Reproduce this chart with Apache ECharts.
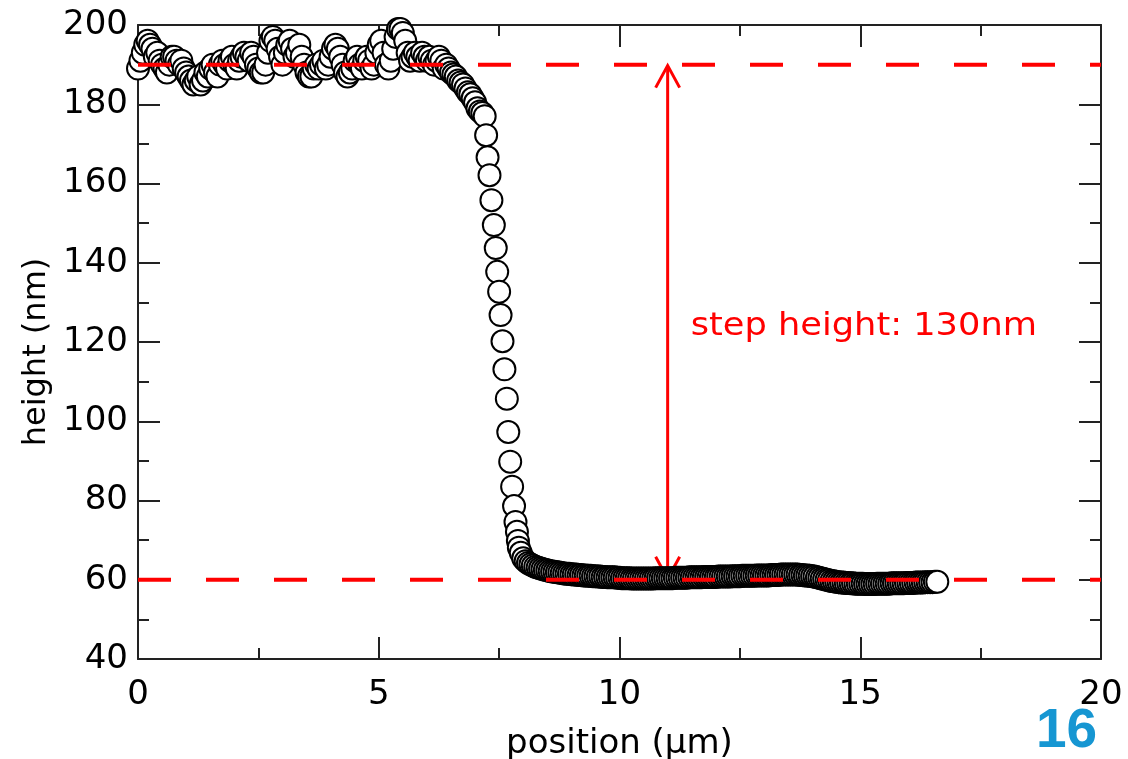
<!DOCTYPE html>
<html>
<head>
<meta charset="utf-8">
<title>step height</title>
<script src="https://cdn.jsdelivr.net/npm/echarts@6/dist/echarts.min.js"></script>
<style>
  html, body { margin: 0; padding: 0; background: #fff; }
  #chart { width: 1128px; height: 759px; }
</style>
</head>
<body>
<div id="chart"></div>
<script>
// profile: plateau, step edge, floor
var plateauX = [0.00, 0.05, 0.10, 0.15, 0.20, 0.25, 0.30, 0.35, 0.40, 0.45,
  0.50, 0.55, 0.60, 0.65, 0.70, 0.75, 0.80, 0.85, 0.90, 0.95,
  1.00, 1.05, 1.10, 1.15, 1.20, 1.25, 1.30, 1.35, 1.40, 1.45,
  1.50, 1.55, 1.60, 1.65, 1.70, 1.75, 1.80, 1.85, 1.90, 1.95,
  2.00, 2.05, 2.10, 2.15, 2.20, 2.25, 2.30, 2.35, 2.40, 2.45,
  2.50, 2.55, 2.60, 2.65, 2.70, 2.75, 2.80, 2.85, 2.90, 2.95,
  3.00, 3.05, 3.10, 3.15, 3.20, 3.25, 3.30, 3.35, 3.40, 3.45,
  3.50, 3.55, 3.60, 3.65, 3.70, 3.75, 3.80, 3.85, 3.90, 3.95,
  4.00, 4.05, 4.10, 4.15, 4.20, 4.25, 4.30, 4.35, 4.40, 4.45,
  4.50, 4.55, 4.60, 4.65, 4.70, 4.75, 4.80, 4.85, 4.90, 4.95,
  5.00, 5.05, 5.10, 5.15, 5.20, 5.25, 5.30, 5.35, 5.40, 5.45,
  5.50, 5.55, 5.60, 5.65, 5.70, 5.75, 5.80, 5.85, 5.90, 5.95,
  6.00, 6.05, 6.10, 6.15, 6.20, 6.25, 6.30, 6.35, 6.40, 6.45,
  6.50, 6.55, 6.60, 6.65, 6.70, 6.75, 6.80, 6.85, 6.90, 6.95,
  7.00, 7.05, 7.10, 7.15, 7.20]
var plateauH = [189, 191, 193, 195, 196, 195, 194, 192, 193, 191,
  190, 189, 188, 190, 192, 192, 191, 190, 191, 189,
  188, 187, 186, 185, 186, 187, 185, 186, 188, 187,
  189, 190, 188, 187, 190, 191, 190, 189, 191, 192,
  190, 189, 191, 192, 193, 192, 191, 193, 192, 190,
  189, 188, 188, 190, 193, 196, 197, 196, 194, 192,
  190, 193, 195, 196, 194, 192, 193, 195, 192, 190,
  188, 187, 187, 189, 190, 189, 190, 191, 189, 190,
  192, 194, 195, 194, 192, 190, 188, 187, 188, 189,
  191, 192, 190, 189, 191, 192, 191, 189, 190, 193,
  195, 196, 193, 190, 189, 191, 194, 197, 199, 199,
  198, 196, 193, 191, 192, 193, 192, 191, 193, 192,
  191, 192, 191, 190, 191, 192, 191, 189, 190, 189,
  188, 187.5, 187, 186, 185.5, 185, 184, 183, 182.5, 181.5,
  180.5, 179, 178.2, 177.8, 177]

var stepX = [7.23, 7.26, 7.30, 7.34, 7.39, 7.43, 7.46, 7.50, 7.53, 7.57,
  7.61, 7.66, 7.69, 7.73, 7.77, 7.81, 7.84, 7.87, 7.89, 7.91,
  7.95, 8.00, 8.05]
var stepH = [172.2, 166.6, 162.1, 155.8, 149.5, 143.7, 137.7, 132.7, 126.8, 120.2,
  113.1, 105.7, 97.3, 89.8, 83.5, 78.6, 74.6, 72.1, 69.8, 68.1,
  66.8, 65.4, 64.7]

var floorX = [8.10, 8.15, 8.20, 8.25, 8.30, 8.35, 8.40, 8.45, 8.50, 8.55,
  8.60, 8.65, 8.70, 8.75, 8.80, 8.85, 8.90, 8.95, 9.00, 9.05,
  9.10, 9.15, 9.20, 9.25, 9.30, 9.35, 9.40, 9.45, 9.50, 9.55,
  9.60, 9.65, 9.70, 9.75, 9.80, 9.85, 9.90, 9.95, 10.00, 10.05,
  10.10, 10.15, 10.20, 10.25, 10.30, 10.35, 10.40, 10.45, 10.50, 10.55,
  10.60, 10.65, 10.70, 10.75, 10.80, 10.85, 10.90, 10.95, 11.00, 11.05,
  11.10, 11.15, 11.20, 11.25, 11.30, 11.35, 11.40, 11.45, 11.50, 11.55,
  11.60, 11.65, 11.70, 11.75, 11.80, 11.85, 11.90, 11.95, 12.00, 12.05,
  12.10, 12.15, 12.20, 12.25, 12.30, 12.35, 12.40, 12.45, 12.50, 12.55,
  12.60, 12.65, 12.70, 12.75, 12.80, 12.85, 12.90, 12.95, 13.00, 13.05,
  13.10, 13.15, 13.20, 13.25, 13.30, 13.35, 13.40, 13.45, 13.50, 13.55,
  13.60, 13.65, 13.70, 13.75, 13.80, 13.85, 13.90, 13.95, 14.00, 14.05,
  14.10, 14.15, 14.20, 14.25, 14.30, 14.35, 14.40, 14.45, 14.50, 14.55,
  14.60, 14.65, 14.70, 14.75, 14.80, 14.85, 14.90, 14.95, 15.00, 15.05,
  15.10, 15.15, 15.20, 15.25, 15.30, 15.35, 15.40, 15.45, 15.50, 15.55,
  15.60, 15.65, 15.70, 15.75, 15.80, 15.85, 15.90, 15.95, 16.00, 16.05,
  16.10, 16.15, 16.20, 16.25, 16.30, 16.35, 16.40, 16.45, 16.50, 16.55,
  16.60]
var floorH = [64.2, 63.9, 63.6, 63.3, 63.1, 62.9, 62.7, 62.5, 62.4, 62.2,
  62.1, 62.0, 61.9, 61.8, 61.7, 61.6, 61.5, 61.5, 61.4, 61.3,
  61.3, 61.2, 61.2, 61.1, 61.1, 61.0, 61.0, 60.9, 60.9, 60.8,
  60.8, 60.7, 60.7, 60.6, 60.6, 60.6, 60.6, 60.5, 60.5, 60.4,
  60.4, 60.4, 60.4, 60.3, 60.3, 60.3, 60.3, 60.3, 60.3, 60.3,
  60.3, 60.3, 60.3, 60.4, 60.4, 60.4, 60.4, 60.4, 60.4, 60.4,
  60.4, 60.5, 60.5, 60.5, 60.5, 60.5, 60.5, 60.6, 60.6, 60.6,
  60.6, 60.6, 60.6, 60.7, 60.7, 60.7, 60.7, 60.7, 60.7, 60.8,
  60.8, 60.8, 60.8, 60.8, 60.8, 60.9, 60.9, 60.9, 60.9, 61.0,
  61.0, 61.0, 61.0, 61.0, 61.0, 61.1, 61.1, 61.1, 61.1, 61.1,
  61.1, 61.2, 61.2, 61.2, 61.2, 61.3, 61.3, 61.3, 61.3, 61.3,
  61.3, 61.3, 61.3, 61.2, 61.2, 61.1, 61.1, 61.0, 60.9, 60.8,
  60.6, 60.5, 60.3, 60.2, 60.0, 59.9, 59.7, 59.6, 59.5, 59.4,
  59.3, 59.3, 59.2, 59.2, 59.1, 59.1, 59.0, 59.0, 59.0, 59.0,
  58.9, 58.9, 58.9, 58.9, 58.9, 59.0, 59.0, 59.0, 59.0, 59.0,
  59.0, 59.1, 59.1, 59.1, 59.1, 59.1, 59.1, 59.2, 59.2, 59.2,
  59.2, 59.3, 59.3, 59.3, 59.3, 59.4, 59.4, 59.4, 59.4, 59.5,
  59.5]

// reference levels and the annotation
var upperLevel = 190
var lowerLevel = 60
var levelSpan = [0, 20]
var arrowAt = 11
var stepLabel = 'step height: 130nm'
var pageNumber = '16'

var positions = plateauX.concat(stepX, floorX)
var heights = plateauH.concat(stepH, floorH)
var points = positions.map(function (x, i) { return [x, heights[i]] })

var axisColor = '#222'
var font = 'DejaVu Sans'

function frameAxis(pos, showLabels, extra) {
  var ax = {
    position: pos,
    axisLine: { show: true, onZero: false, lineStyle: { color: axisColor, width: 2 } },
    axisTick: { show: true, inside: true, length: 22, lineStyle: { color: axisColor, width: 2 } },
    minorTick: { show: true, splitNumber: 2, length: 11, lineStyle: { color: axisColor, width: 2 } },
    splitLine: { show: false },
    axisLabel: { show: showLabels, color: '#000', fontSize: 34, fontFamily: font,
      margin: (pos === 'bottom' ? 19 : 10) }
  }
  return Object.assign(ax, extra)
}

var chart = echarts.init(document.getElementById('chart'))
var option = {
  animation: false,
  backgroundColor: '#fff',
  grid: { left: 138, right: 27, top: 25, bottom: 100, containLabel: false, outerBoundsMode: 'none' },
  xAxis: [
    frameAxis('bottom', true, {
      type: 'value', min: 0, max: 20, interval: 5,
      name: 'position (µm)', nameLocation: 'middle', nameGap: 68,
      nameTextStyle: { color: '#000', fontSize: 34, fontFamily: font }
    }),
    frameAxis('top', false, { type: 'value', min: 0, max: 20, interval: 5 })
  ],
  yAxis: [
    frameAxis('left', true, {
      type: 'value', min: 40, max: 200, interval: 20,
      name: 'height (nm)', nameLocation: 'middle', nameGap: 85,
      nameTextStyle: { color: '#000', fontSize: 32, fontFamily: font, padding: [0, 20, 0, 0] }
    }),
    frameAxis('right', false, { type: 'value', min: 40, max: 200, interval: 20 })
  ],
  graphic: [{
    type: 'text', left: 1036, top: 704,
    style: { text: pageNumber, fill: '#1696d2', fontSize: 55, fontWeight: 'bold', fontFamily: 'Liberation Sans' }
  }],
  series: [
    {
      type: 'scatter',
      data: points,
      clip: false,
      symbol: 'circle',
      symbolSize: 22,
      itemStyle: { color: '#fff', borderColor: '#000', borderWidth: 2, opacity: 1 }
    },
    {
      type: 'line', showSymbol: false, silent: true,
      data: levelSpan.map(function (x) { return [x, upperLevel] }),
      lineStyle: { color: '#ff0000', width: 4, type: [33, 35] }
    },
    {
      type: 'line', showSymbol: false, silent: true,
      data: levelSpan.map(function (x) { return [x, lowerLevel] }),
      lineStyle: { color: '#ff0000', width: 4, type: [33, 35] }
    },
    {
      type: 'custom',
      silent: true,
      data: [[arrowAt, upperLevel, lowerLevel]],
      encode: { x: 0, y: [1, 2] },
      renderItem: function (params, api) {
        var top = api.coord([api.value(0), api.value(1)])
        var bot = api.coord([api.value(0), api.value(2)])
        var st = { stroke: '#ff0000', lineWidth: 3, fill: null }
        return {
          type: 'group',
          children: [
            { type: 'line', shape: { x1: top[0], y1: top[1] + 2, x2: bot[0], y2: bot[1] - 2 }, style: st },
            { type: 'polyline', shape: { points: [[top[0] - 12, top[1] + 23], [top[0], top[1] + 1], [top[0] + 12, top[1] + 23]] }, style: st },
            { type: 'polyline', shape: { points: [[bot[0] - 12, bot[1] - 23], [bot[0], bot[1] - 1], [bot[0] + 12, bot[1] - 23]] }, style: st },
            {
              type: 'text', x: top[0] + 23, y: (top[1] + bot[1]) / 2 + 4, scaleX: 1.1,
              style: { text: stepLabel, x: 0, y: 0, fill: '#ff0000', fontSize: 32, fontFamily: font, verticalAlign: 'middle', align: 'left' }
            }
          ]
        }
      }
    }
  ]
}
chart.setOption(option)
</script>
</body>
</html>
